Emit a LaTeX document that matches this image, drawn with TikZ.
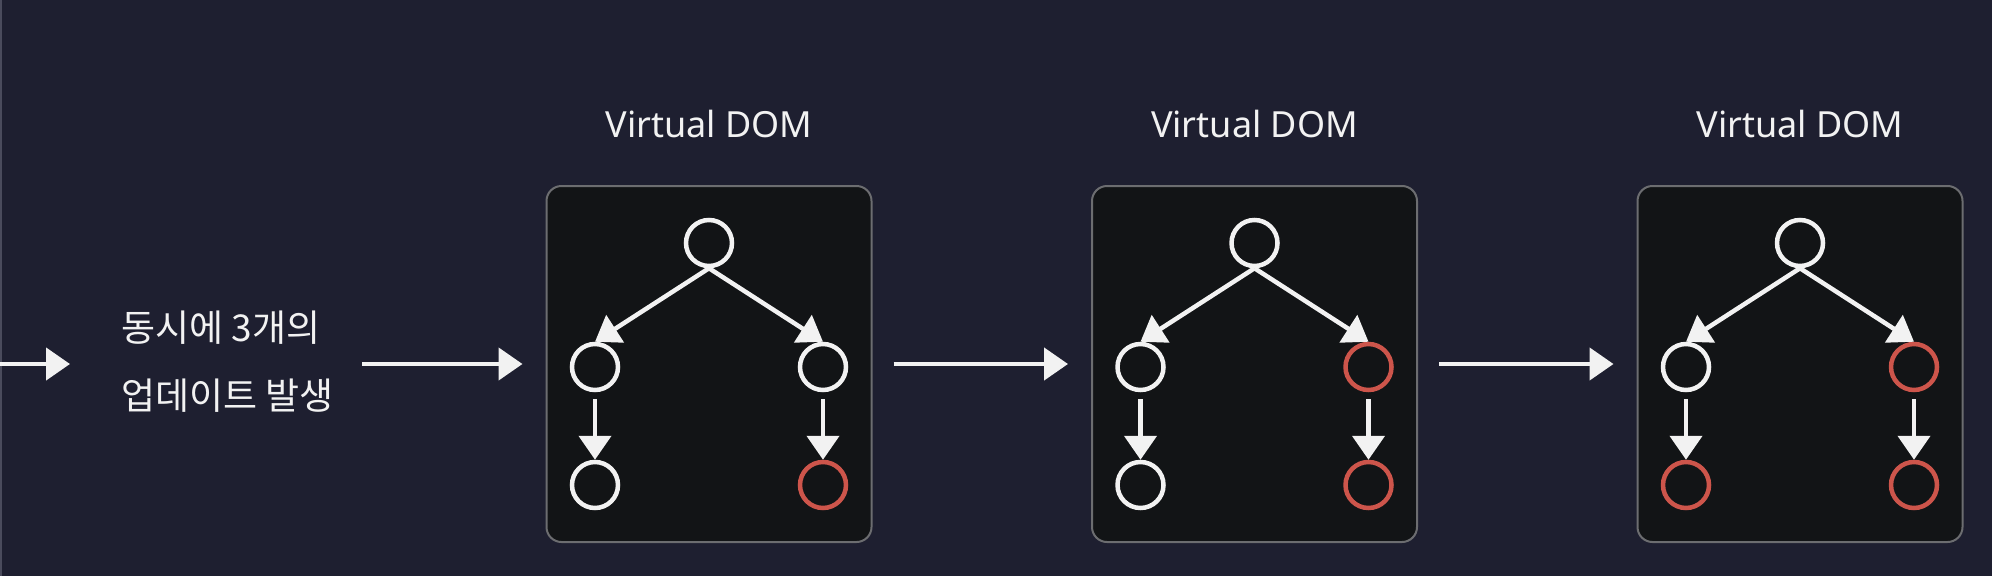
\documentclass[tikz,border=0pt]{standalone}
\usepackage{fontspec}
\setmainfont{Noto Sans}
\newfontfamily\kofont{Noto Sans CJK KR}
\usepackage{xcolor}
\usetikzlibrary{arrows.meta,positioning}
\definecolor{bgnavy}{HTML}{1E1F30}
\definecolor{boxfill}{HTML}{121416}
\definecolor{boxedge}{HTML}{6C6D70}
\definecolor{chalk}{HTML}{F2F2F2}
\definecolor{chalkred}{HTML}{CD554B}
\definecolor{edgegray}{HTML}{4A4B5C}

\begin{document}
\begin{tikzpicture}[x=1pt,y=-1pt,
   vd/.style={draw=boxedge,line width=2pt,fill=boxfill,rounded corners=15pt,
              minimum width=325pt,minimum height=356pt,inner sep=0pt},
   nd/.style={circle,draw=#1,line width=4.5pt,minimum size=46pt,inner sep=0pt},
   nd/.default=chalk,
   lbl/.style={text=chalk,font=\fontsize{36}{40}\selectfont},
   arr/.style={draw=chalk,line width=4.5pt,-{Triangle[length=24pt,width=32pt]}}]
  % background and left edge
  \fill[bgnavy] (0,0) rectangle (1992,576);
  \fill[edgegray] (0,0) rectangle (2,576);
  \useasboundingbox (0,0) rectangle (1992,576);

  \coordinate (in) at (0,364);
  \coordinate (inend) at (70,364);
  \node[text=chalk,font=\kofont\fontsize{37}{68}\selectfont,align=left,anchor=west,
        inner sep=0pt] (upd) at (121,362) {동시에 3개의\\업데이트 발생};
  \draw[arr] (in) -- (inend);

  % three virtual DOM trees
  \foreach \i/\mr/\bl/\br in {1/chalk/chalk/chalkred,2/chalkred/chalk/chalkred,
                               3/chalkred/chalkred/chalkred}{
    \pgfmathsetmacro\cx{709+545.5*(\i-1)}
    \node[vd] (box\i) at (\cx,364) {};
    \node[lbl,anchor=base] (title\i) at (\cx,137) {Virtual DOM};
    \node[nd] (root\i) at (\cx,243) {};
    \node[nd] (ml\i) at ({\cx-114},367) {};
    \node[nd=\mr] (mr\i) at ({\cx+114},367) {};
    \node[nd=\bl] (bl\i) at ({\cx-114},485) {};
    \node[nd=\br] (br\i) at ({\cx+114},485) {};
    \draw[arr] (root\i.south) -- (ml\i.north);
    \draw[arr] (root\i.south) -- (mr\i.north);
    \draw[arr,shorten <=7pt] (ml\i.south) -- (bl\i.north);
    \draw[arr,shorten <=7pt] (mr\i.south) -- (br\i.north);
  }

  \coordinate (updout) at (362,364);
  \draw[arr,shorten >=23pt] (updout) -- (box1.west);
  \draw[arr,shorten <=21pt,shorten >=23pt] (box1.east) -- (box2.west);
  \draw[arr,shorten <=21pt,shorten >=23pt] (box2.east) -- (box3.west);
\end{tikzpicture}
\end{document}
